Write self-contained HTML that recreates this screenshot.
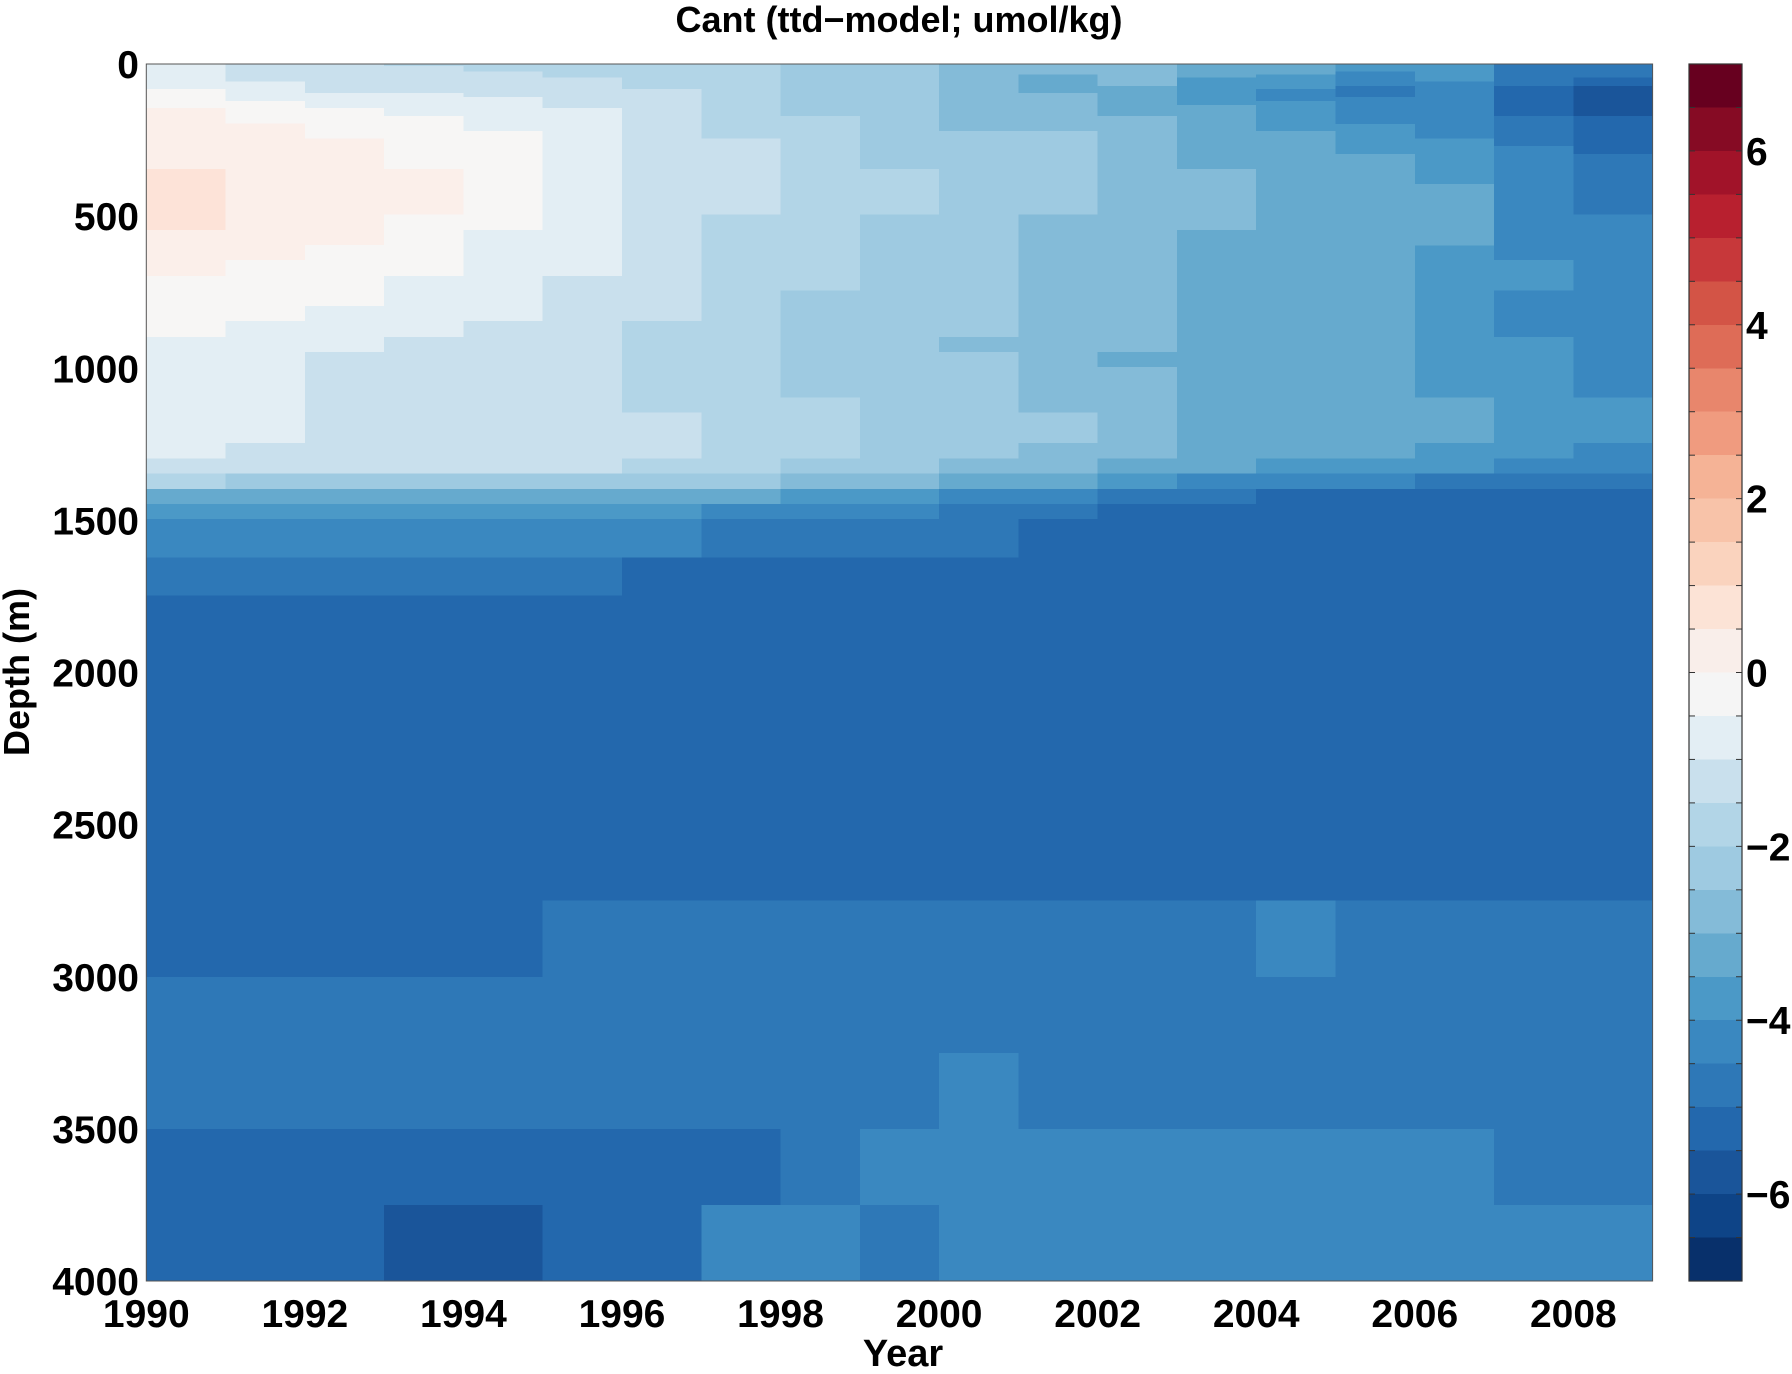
<!DOCTYPE html>
<html><head><meta charset="utf-8"><style>
html,body{margin:0;padding:0;background:#fff}
svg text{font-family:"Liberation Sans",sans-serif;font-weight:bold;fill:#000}
</style></head><body>
<svg id="s" width="1792" height="1369" viewBox="0 0 1792 1369" xmlns="http://www.w3.org/2000/svg">
<g id="cells" shape-rendering="crispEdges"></g>
<g id="cb" shape-rendering="crispEdges"></g>
<g id="ax"></g>
</svg>
<script>
var C={W:'#f7f6f5',E:'#e3eef4',P:'#fbefea',Q:'#fde3d8',2:'#c9e0ed',3:'#b2d5e7',4:'#9ecae1',5:'#84bbd8',6:'#66aace',7:'#4b99c7',8:'#3a88c0',9:'#2e78b7',10:'#2368ad',11:'#1a559a',12:'#0e4487'};
var X0=146.3,X1=1652.6,Y0=64,Y1=1281,cw=(X1-X0)/19,k=(Y1-Y0)/4000;
var cols=[
[82,'E',144,'W',345,'P',546,'Q',696,'P',897,'W',1297,'E',1346,2,1397,3,1446,6,1496,7,1622,8,1747,9,3000,10,3500,9,3750,10,4000,10],
[58,2,121,'E',195,'W',645,'P',845,'W',1245,'E',1346,2,1397,4,1446,6,1496,7,1622,8,1747,9,3000,10,3500,9,3750,10,4000,10],
[95,2,144,'E',245,'W',595,'P',796,'W',946,'E',1346,2,1397,4,1446,6,1496,7,1622,8,1747,9,3000,10,3500,9,3750,10,4000,10],
[7,3,95,2,171,'E',345,'W',495,'P',696,'W',897,'E',1346,2,1397,4,1446,6,1496,7,1622,8,1747,9,3000,10,3500,9,3750,10,4000,11],
[25,3,108,2,221,'E',546,'W',845,'E',1346,2,1397,4,1446,6,1496,7,1622,8,1747,9,3000,10,3500,9,3750,10,4000,11],
[44,3,144,2,696,'E',1346,2,1397,4,1446,6,1496,7,1622,8,1747,9,2750,10,3500,9,3750,10,4000,10],
[82,3,845,2,1145,3,1297,2,1346,3,1397,4,1446,6,1496,7,1622,8,2750,10,3500,9,3750,10,4000,10],
[245,3,495,2,1346,3,1397,4,1446,6,1496,8,1622,9,2750,10,3500,9,3750,10,4000,8],
[171,4,745,3,1096,4,1297,3,1346,4,1397,5,1446,7,1496,8,1622,9,2750,10,3500,9,3750,9,4000,8],
[345,4,495,3,1346,4,1397,5,1446,7,1496,8,1622,9,2750,10,3500,9,3750,8,4000,9],
[221,5,897,4,946,5,1297,4,1346,5,1397,6,1446,8,1622,9,2750,10,3250,9,3500,8,3750,8,4000,8],
[35,5,95,6,221,5,495,4,1145,5,1245,4,1346,5,1397,6,1446,8,1496,9,2750,10,3500,9,3750,8,4000,8],
[72,5,171,6,946,5,996,6,1297,5,1346,6,1397,7,1446,9,2750,10,3500,9,3750,8,4000,8],
[44,6,134,7,345,6,546,5,1346,6,1397,8,1446,9,2750,10,3500,9,3750,8,4000,8],
[35,6,82,7,121,8,221,7,1297,6,1346,7,1397,8,2750,10,3000,8,3500,9,3750,8,4000,8],
[25,7,72,8,108,9,197,8,296,7,1297,6,1346,7,1397,8,2750,10,3500,9,3750,8,4000,8],
[58,7,245,8,394,7,596,6,1096,7,1245,6,1346,7,1397,9,2750,10,3500,9,3750,8,4000,8],
[72,9,171,10,270,9,645,8,745,7,897,8,1297,7,1346,8,1397,9,2750,10,3500,9,3750,9,4000,8],
[44,9,72,10,171,11,296,10,495,9,1096,8,1245,7,1346,8,1397,9,2750,10,3500,9,3750,9,4000,8]];
var h='';
cols.forEach(function(c,i){var top=0;for(var j=0;j<c.length;j+=2){var b=c[j];
h+='<rect x="'+(X0+i*cw).toFixed(2)+'" y="'+(Y0+top*k).toFixed(2)+'" width="'+(cw+0.6).toFixed(2)+'" height="'+((b-top)*k+0.6).toFixed(2)+'" fill="'+C[c[j+1]]+'"/>';top=b;}});
document.getElementById('cells').innerHTML=h;
var cb=['#67001f','#860b24','#a11329','#b8202f','#c7383a','#d35446','#de6c57','#e8866c','#f09b7f','#f5b396','#f8c3a9','#fad3be','#fce3d6','#f9eeea','#f5f5f5','#e3eef4','#c9e0ed','#b2d5e7','#9ecae1','#84bbd8','#66aace','#4b99c7','#3a88c0','#2e78b7','#2368ad','#1a559a','#0e4487','#08306b'];
var CX0=1689,CX1=1742,bh=(Y1-Y0)/28,g='';
cb.forEach(function(c,i){g+='<rect x="'+CX0+'" y="'+(Y0+i*bh).toFixed(2)+'" width="'+(CX1-CX0)+'" height="'+(bh+0.6).toFixed(2)+'" fill="'+c+'"/>';});
document.getElementById('cb').innerHTML=g;
var a='<rect x="'+X0+'" y="'+Y0+'" width="'+(X1-X0)+'" height="'+(Y1-Y0)+'" fill="none" stroke="#555" stroke-width="1"/>';
a+='<rect x="'+CX0+'" y="'+Y0+'" width="'+(CX1-CX0)+'" height="'+(Y1-Y0)+'" fill="none" stroke="#333" stroke-width="1.2"/>';
for(var i=1;i<28;i++){var y=Y0+i*bh;a+='<line x1="'+CX0+'" x2="'+(CX0+6)+'" y1="'+y+'" y2="'+y+'" stroke="#333"/><line x1="'+(CX1-6)+'" x2="'+CX1+'" y1="'+y+'" y2="'+y+'" stroke="#333"/>';}
[6,4,2,0,-2,-4,-6].forEach(function(v){var y=Y0+(7-v)/14*(Y1-Y0);a+='<text x="1746" y="'+(y+14)+'" font-size="39">'+(v<0?'\u2212'+(-v):v)+'</text>';});
for(var d=0;d<=4000;d+=500){var y=Y0+d*k;a+='<text x="139" y="'+(y+14)+'" font-size="39" text-anchor="end">'+d+'</text>';}
for(var yr=1990;yr<=2008;yr+=2){var x=X0+(yr-1990)*cw;a+='<text x="'+x+'" y="1327" font-size="39" text-anchor="middle">'+yr+'</text>';}
a+='<text x="903" y="1366" font-size="38" text-anchor="middle">Year</text>';
a+='<text x="899" y="32" font-size="36" text-anchor="middle">Cant (ttd\u2212model; umol/kg)</text>';
a+='<text transform="translate(29,672) rotate(-90)" font-size="36" text-anchor="middle">Depth (m)</text>';
document.getElementById('ax').innerHTML=a;
</script>
</body></html>
